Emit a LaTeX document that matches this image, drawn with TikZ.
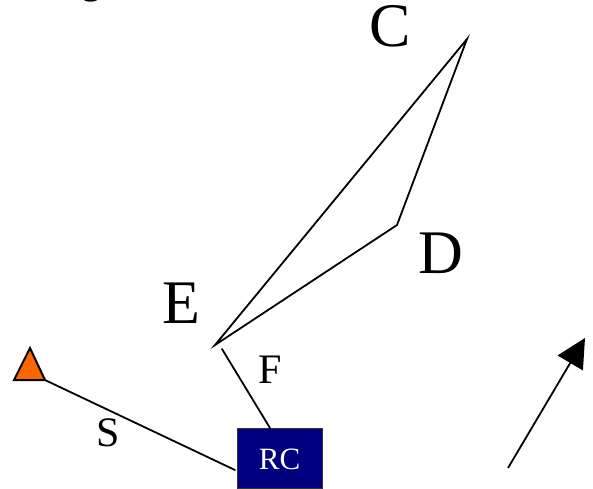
\documentclass[tikz,border=0pt]{standalone}
\usepackage{fontspec}
\setmainfont{Liberation Serif}
\usetikzlibrary{arrows.meta}
\definecolor{rcblue}{RGB}{0,0,128}
\definecolor{tri}{RGB}{255,102,0}
\begin{document}
\begin{tikzpicture}[x=1pt,y=-1pt,
  big/.style={inner sep=0pt,font=\fontsize{62}{62}\selectfont},
  mid/.style={inner sep=0pt,font=\fontsize{42}{42}\selectfont},
  edge/.style={line width=1.8pt,line cap=round},
  rcbox/.style={draw=black!80,line width=1.2pt,fill=rcblue,minimum width=85pt,minimum height=60pt,inner sep=0pt}]
\useasboundingbox (0,0) rectangle (593,488);
\begin{scope}
\clip (0,0) rectangle (593,488);
\node[inner sep=0pt,anchor=south,font=\fontsize{40}{40}\selectfont] (frag) at (91,2.5) {g};
\end{scope}
% polygon vertices
\coordinate (c) at (467,39);
\coordinate (d) at (397,225);
\coordinate (e) at (215,345);
\draw[edge,line join=miter] (c) -- (d) -- (e) -- cycle;
% labels
\node[big] (lc) at (390,26) {C};
\node[big] (ld) at (441,253) {D};
\node[big] (le) at (181,303) {E};
\node[mid] (lf) at (270,370) {F};
\node[mid] (ls) at (108,433) {S};
% RC box
\node[rcbox,anchor=north west] (rc) at (237,428) {};
\node[inner sep=0pt,text=white,font=\fontsize{31}{31}\selectfont] (rct) at (279.5,459) {RC};
% F connector
\coordinate (f1) at (222,349);
\draw[edge] (f1) -- (rc.north -| 270,0);
% triangle
\coordinate (ta) at (30,348);
\coordinate (tl) at (14,380);
\coordinate (tr) at (45,380);
\draw[line width=2pt,fill=tri,line join=miter] (ta) -- (tl) -- (tr) -- cycle;
% S connector
\coordinate (s2) at (235,470);
\draw[edge] (tr) -- (s2);
% arrow
\coordinate (a1) at (508,468);
\coordinate (a2) at (585,338);
\draw[line width=1.8pt,-{Triangle[length=29pt,width=29pt]}] (a1) -- (a2);
\end{tikzpicture}
\end{document}
